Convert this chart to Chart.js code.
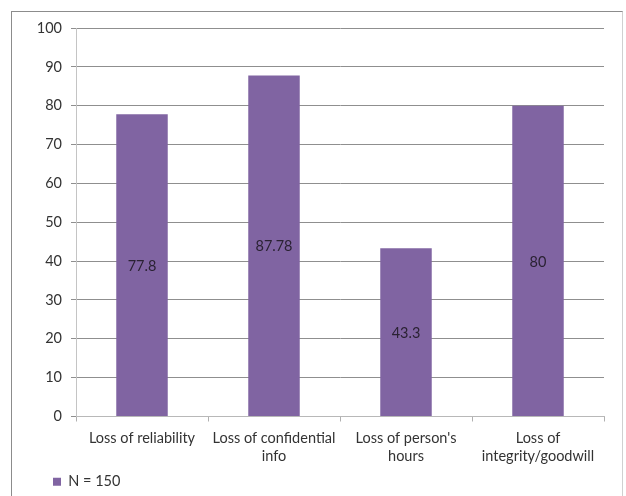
<!DOCTYPE html>
<html>
<head>
<meta charset="utf-8">
<script src="https://cdn.jsdelivr.net/npm/chart.js@4.4.1/dist/chart.umd.min.js"></script>
<style>
  html, body { margin: 0; padding: 0; background: #fff; }
  #wrap { position: relative; width: 626px; height: 496px; overflow: hidden; }
  #frame {
    position: absolute; left: 11px; top: 11px; width: 612px; height: 520px;
    border: 1px solid #8c8c8c; border-right-color: #d0d0d0; box-sizing: border-box;
  }
  canvas { position: absolute; left: 0; top: 0; }
</style>
</head>
<body>
<div id="wrap">
  <div id="frame"></div>
  <canvas id="c" width="626" height="496"></canvas>
</div>
<script>
// Survey results: share of respondents per type of loss
const categories = [
  'Loss of reliability',
  ['Loss of confidential', 'info'],
  ["Loss of person's", 'hours'],
  ['Loss of', 'integrity/goodwill']
];
const values = [77.8, 87.78, 43.3, 80];
const seriesName = 'N = 150';
const yTicks = [0, 10, 20, 30, 40, 50, 60, 70, 80, 90, 100];

const FONT = 'Lato, "Open Sans", sans-serif';
const FONT_SIZE = 14.5;

// Writes each bar's value in the middle of the bar
const valueLabels = {
  id: 'valueLabels',
  afterDatasetsDraw(chart) {
    const ctx = chart.ctx;
    const meta = chart.getDatasetMeta(0);
    ctx.save();
    ctx.font = FONT_SIZE + 'px ' + FONT;
    ctx.fillStyle = '#2a2233';
    ctx.textAlign = 'center';
    ctx.textBaseline = 'middle';
    meta.data.forEach((bar, i) => {
      const mid = (bar.y + bar.base) / 2;
      ctx.fillText(String(values[i]), bar.x, mid + 1);
    });
    ctx.restore();
  }
};

// Moves the legend so its swatch lines up under the value axis labels
const legendIndent = {
  id: 'legendIndent',
  afterLayout(chart) {
    const lg = chart.legend;
    if (!lg) return;
    lg.left += 29;
    lg.right += 29;
  }
};

new Chart(document.getElementById('c'), {
  type: 'bar',
  data: {
    labels: categories,
    datasets: [{
      label: seriesName,
      data: values,
      backgroundColor: '#8064A2',
      borderWidth: 0,
      barPercentage: 0.39,
      categoryPercentage: 1
    }]
  },
  options: {
    responsive: false,
    animation: false,
    events: [],
    layout: { padding: { left: 20, right: 22, top: 28, bottom: -3 } },
    plugins: {
      tooltip: { enabled: false },
      legend: {
        position: 'bottom',
        align: 'start',
        labels: {
          boxWidth: 8,
          boxHeight: 8,
          padding: 4,
          color: '#333',
          font: { family: FONT, size: FONT_SIZE }
        }
      }
    },
    scales: {
      x: {
        afterFit(scale) { scale.height = 54; },
        grid: {
          offset: true,
          drawOnChartArea: false,
          drawTicks: true,
          tickLength: 5,
          color: '#b0b0b0'
        },
        border: { color: '#b8b8b8' },
        ticks: {
          padding: 8,
          color: '#333',
          font: { family: FONT, size: FONT_SIZE, lineHeight: 1.24 },
          maxRotation: 0
        }
      },
      y: {
        min: 0,
        max: 100,
        afterFit(scale) { scale.width = 56; },
        afterBuildTicks(scale) { scale.ticks = yTicks.map(v => ({ value: v })); },
        grid: {
          color: '#8f8f8f',
          tickLength: 5,
          drawTicks: true
        },
        border: { color: '#c4c4c4' },
        ticks: {
          padding: 9,
          color: '#333',
          font: { family: FONT, size: FONT_SIZE }
        }
      }
    }
  },
  plugins: [valueLabels, legendIndent]
});
</script>
</body>
</html>
